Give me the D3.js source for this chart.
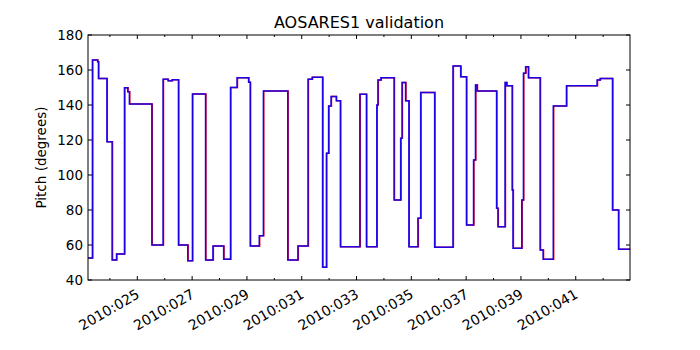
<!DOCTYPE html>
<html><head><meta charset="utf-8">
<script src="https://cdn.jsdelivr.net/npm/d3@7/dist/d3.min.js"></script>
<style>
html,body{margin:0;padding:0;background:#fff;}
svg text{font-family:"DejaVu Sans",sans-serif;fill:#000;}
</style></head>
<body><svg id="c" width="700" height="350"></svg>
<script>
// Time in fractional day-of-year 2010, pitch in degrees (step changes)
const times = [23.20,23.36,23.55,23.58,23.89,24.08,24.24,24.53,24.65,24.71,25.53,25.94,26.12,26.27,26.50,26.84,27.01,27.49,27.76,28.15,28.40,28.64,29.06,29.12,29.45,29.60,30.49,30.86,31.23,31.38,31.76,31.90,31.98,32.07,32.26,32.41,33.12,33.36,33.74,33.78,33.89,34.37,34.61,34.66,34.79,34.91,35.24,35.34,35.85,36.52,36.80,37.01,37.27,37.34,37.40,38.11,38.16,38.42,38.48,38.68,38.71,39.03,39.09,39.17,39.27,39.70,39.81,40.18,40.66,41.78,41.89,42.34,42.56,42.98];
const pitch = [52.6,165.7,164.7,155.2,119,51.4,54.9,149.9,147.6,140.6,60,154.7,153.8,154.5,60,51,146.3,51.4,59.4,51.8,150,155.6,153,59.4,65.3,148,51.4,59.4,154.7,155.8,47.3,112.4,139.4,144.8,142.5,59,146.1,59,140,154.3,155.6,85.7,121,152.8,142.5,59,75.3,147.2,58.7,162.3,156.2,71.4,108.6,151.4,148,81,70.5,152.8,151,91.4,58.1,85.7,158.1,161.9,155.6,57.1,51.8,139.4,151,154.3,155.2,80,57.6,57.6];
const yTicks = [40,60,80,100,120,140,160,180];
const xMajor = [25,27,29,31,33,35,37,39,41];
const xMinor = [24,26,28,30,32,34,36,38,40,42];
const xLabels = ["2010:025","2010:027","2010:029","2010:031","2010:033","2010:035","2010:037","2010:039","2010:041"];

const svg = d3.select("#c");
const L=88, R=630, T=35, B=280;
const x = d3.scaleLinear().domain([23.20,42.98]).range([L,R]);
const y = d3.scaleLinear().domain([40,180]).range([B,T]);
const pts = times.map((t,i)=>[t,pitch[i]]);
const line = d3.line().x(d=>x(d[0])).y(d=>y(d[1])).curve(d3.curveStepAfter);

const g = svg.append("g");
g.append("path").attr("d",line(pts)).attr("fill","none").attr("stroke","#ff0000").attr("stroke-width",1.5).attr("transform","translate(0.4,0)");
g.append("path").attr("d",line(pts)).attr("fill","none").attr("stroke","#0000ff").attr("stroke-width",1.5).attr("stroke-opacity",0.9);

// frame
svg.append("rect").attr("x",L).attr("y",T).attr("width",R-L).attr("height",B-T).attr("fill","none").attr("stroke","#000").attr("stroke-width",1);

// y ticks
yTicks.forEach(v=>{
  svg.append("line").attr("x1",L).attr("x2",L+4).attr("y1",y(v)).attr("y2",y(v)).attr("stroke","#000");
  svg.append("line").attr("x1",R).attr("x2",R-4).attr("y1",y(v)).attr("y2",y(v)).attr("stroke","#000");
  svg.append("text").attr("x",L-5).attr("y",y(v)).attr("dy","0.35em").attr("text-anchor","end").attr("font-size",13.5).text(v);
});
xMajor.forEach((d,i)=>{
  svg.append("line").attr("x1",x(d)).attr("x2",x(d)).attr("y1",B).attr("y2",B-4).attr("stroke","#000");
  svg.append("line").attr("x1",x(d)).attr("x2",x(d)).attr("y1",T).attr("y2",T+4).attr("stroke","#000");
  svg.append("text").attr("text-anchor","end").attr("font-size",14)
    .attr("transform",`translate(${x(d)-2},${B+8}) rotate(-30)`).attr("dy","0.75em").text(xLabels[i]);
});
xMinor.forEach(d=>{
  svg.append("line").attr("x1",x(d)).attr("x2",x(d)).attr("y1",B).attr("y2",B-2).attr("stroke","#000");
  svg.append("line").attr("x1",x(d)).attr("x2",x(d)).attr("y1",T).attr("y2",T+2).attr("stroke","#000");
});
svg.append("text").attr("x",(L+R)/2).attr("y",28).attr("text-anchor","middle").attr("font-size",16).text("AOSARES1 validation");
svg.append("text").attr("transform",`translate(46,${(T+B)/2}) rotate(-90)`).attr("text-anchor","middle").attr("font-size",13.5).text("Pitch (degrees)");
</script></body></html>
